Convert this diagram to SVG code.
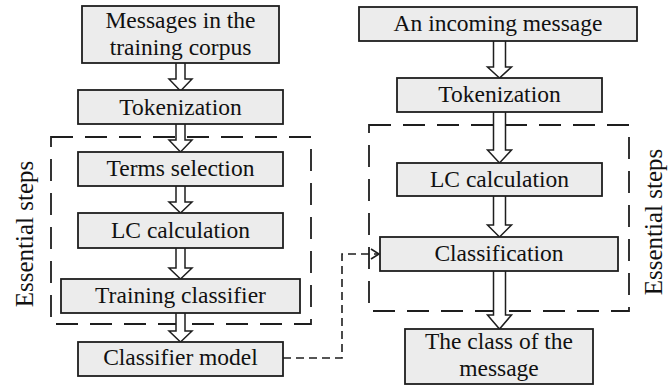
<svg xmlns="http://www.w3.org/2000/svg" width="669" height="386" viewBox="0 0 669 386">
<style>
.box{fill:#ececec;stroke:#1e1e1e;stroke-width:1.8}
.t{font-family:"Liberation Serif","Times New Roman",serif;font-size:23.5px;fill:#111;text-anchor:middle}
.side{font-size:25px}
.arr{fill:#fff;stroke:#1e1e1e;stroke-width:1.5;stroke-linejoin:miter}
.frame{fill:none;stroke:#1e1e1e;stroke-width:1.8;stroke-dasharray:22 12}
.conn{fill:none;stroke:#1e1e1e;stroke-width:1.6;stroke-dasharray:8 5}
</style>
<defs>
<marker id="ah" markerWidth="12" markerHeight="12" refX="10" refY="6" orient="auto" markerUnits="userSpaceOnUse">
<path d="M2,1 L10,6 L2,11" fill="none" stroke="#1e1e1e" stroke-width="1.6"/>
</marker>
</defs>
<rect width="669" height="386" fill="#fff"/>
<g id="frames">
<rect class="frame" x="51" y="137" width="260" height="187"/>
<rect class="frame" x="369" y="125" width="260" height="186"/>
<text class="t side" transform="translate(33,234) rotate(-90)">Essential steps</text>
<text class="t side" transform="translate(662,222) rotate(-90)">Essential steps</text>
</g>
<g id="connectors">
<path class="arr" d="M176,63 V79 H169 L180.5,91 L192,79 H185 V63"/>
<path class="arr" d="M176,124 V140 H169 L180.5,152 L192,140 H185 V124"/>
<path class="arr" d="M176,186 V202 H169 L180.5,213 L192,202 H185 V186"/>
<path class="arr" d="M176,248 V268 H169 L180.5,279 L192,268 H185 V248"/>
<path class="arr" d="M176,313 V331 H169 L180.5,342 L192,331 H185 V313"/>
<path class="arr" d="M493.5,41 V67 H487.5 L499.5,78 L511.5,67 H505.5 V41"/>
<path class="arr" d="M493.5,112 V150 H487.5 L499.5,163 L511.5,150 H505.5 V112"/>
<path class="arr" d="M493.5,196 V225 H487.5 L499.5,237 L511.5,225 H505.5 V196"/>
<path class="arr" d="M493.5,271 V315 H487.5 L499.5,329 L511.5,315 H505.5 V271"/>
<path class="conn" d="M283,358 H342 V254 H379" marker-end="url(#ah)"/>
</g>
<g id="n1"><rect class="box" x="82" y="6" width="197" height="57"/><text class="t" x="180.5" y="28">Messages in the</text><text class="t" x="180.5" y="55">training corpus</text></g>
<g id="n2"><rect class="box" x="78" y="90" width="205" height="34"/><text class="t" x="180.5" y="115">Tokenization</text></g>
<g id="n3"><rect class="box" x="78" y="152" width="205" height="34"/><text class="t" x="180.5" y="176">Terms selection</text></g>
<g id="n4"><rect class="box" x="78" y="213" width="205" height="35"/><text class="t" x="180.5" y="238">LC calculation</text></g>
<g id="n5"><rect class="box" x="61" y="279" width="239" height="34"/><text class="t" x="180.5" y="303">Training classifier</text></g>
<g id="n6"><rect class="box" x="78" y="342" width="205" height="34"/><text class="t" x="180.5" y="365">Classifier model</text></g>
<g id="m1"><rect class="box" x="359" y="7" width="278" height="34"/><text class="t" x="498" y="31">An incoming message</text></g>
<g id="m2"><rect class="box" x="397" y="78" width="205" height="34"/><text class="t" x="499.5" y="102">Tokenization</text></g>
<g id="m3"><rect class="box" x="397" y="163" width="205" height="33"/><text class="t" x="499.5" y="187">LC calculation</text></g>
<g id="m4"><rect class="box" x="380" y="237" width="238" height="34"/><text class="t" x="499" y="261">Classification</text></g>
<g id="m5"><rect class="box" x="405" y="329" width="188" height="55"/><text class="t" x="499" y="349">The class of the</text><text class="t" x="499" y="376">message</text></g>
</svg>
